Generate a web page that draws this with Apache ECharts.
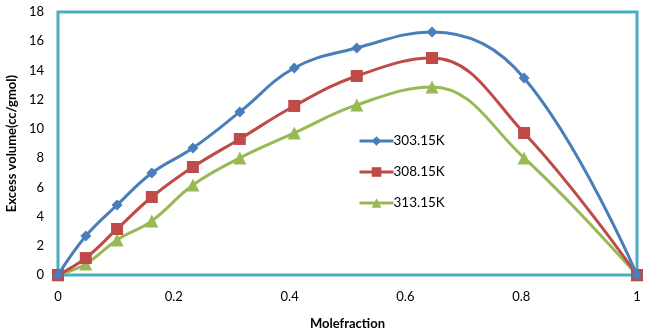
<!DOCTYPE html>
<html><head><meta charset="utf-8">
<script src="https://cdn.jsdelivr.net/npm/echarts@6/dist/echarts.min.js"></script>
<style>html,body{margin:0;padding:0;background:#fff}#c{width:650px;height:333px}</style>
</head><body><div id="c"></div>
<script>
const xValues = [0, 0.048, 0.102, 0.162, 0.233, 0.314, 0.408, 0.516, 0.646, 0.805, 1];
const s303 = [0, 2.67, 4.79, 6.98, 8.69, 11.16, 14.17, 15.54, 16.63, 13.48, 0];
const s308 = [0, 1.16, 3.15, 5.34, 7.39, 9.31, 11.57, 13.62, 14.85, 9.72, 0];
const s313 = [0, 0.75, 2.40, 3.70, 6.16, 8.01, 9.72, 11.64, 12.87, 8.01, 0];
const seriesNames = ['303.15K', '308.15K', '313.15K'];
const colors = ['#4A7EBB', '#BE4B48', '#98B954'];
const symbols = ['diamond', 'rect', 'triangle'];
const symbolSizes = [11, 12, 13];
const allData = [s303, s308, s313];

const chart = echarts.init(document.getElementById('c'));
const font = 'Lato, "Open Sans", sans-serif';
chart.setOption({
  animation: false,
  grid: {left: 58, right: 13, top: 12, bottom: 58, show: true, borderColor: '#4BACC6', borderWidth: 3, outerBoundsMode: 'none', containLabel: false},
  legend: {
    orient: 'vertical', left: 353, top: 129, itemGap: 17, itemWidth: 34, itemHeight: 12,
    lineStyle: {width: 3},
    textStyle: {fontFamily: font, fontSize: 13.5, color: '#000', padding: [0,0,0,-5]},
    data: seriesNames
  },
  xAxis: {
    type: 'value', min: 0, max: 1, interval: 0.2,
    name: 'Molefraction', nameLocation: 'middle', nameGap: 42,
    nameTextStyle: {fontFamily: font, fontSize: 13, fontWeight: 'bold', color: '#000'},
    axisLine: {show: false}, axisTick: {show: false}, splitLine: {show: false},
    axisLabel: {fontFamily: font, fontSize: 13, color: '#000', margin: 15}
  },
  yAxis: {
    type: 'value', min: 0, max: 18, interval: 2,
    name: 'Excess volume(cc/gmol)', nameLocation: 'middle', nameGap: 36,
    nameTextStyle: {fontFamily: font, fontSize: 13, fontWeight: 'bold', color: '#000'},
    axisLine: {show: false}, axisTick: {show: false}, splitLine: {show: false},
    axisLabel: {fontFamily: font, fontSize: 13, color: '#000', margin: 14}
  },
  series: allData.map((d, i) => ({
    name: seriesNames[i], type: 'line', smooth: 0.4,
    data: d.map((v, j) => [xValues[j], v]),
    symbol: symbols[i], symbolSize: symbolSizes[i],
    lineStyle: {color: colors[i], width: 3},
    itemStyle: {color: colors[i]},
    z: 3 - i
  }))
});
</script></body></html>
